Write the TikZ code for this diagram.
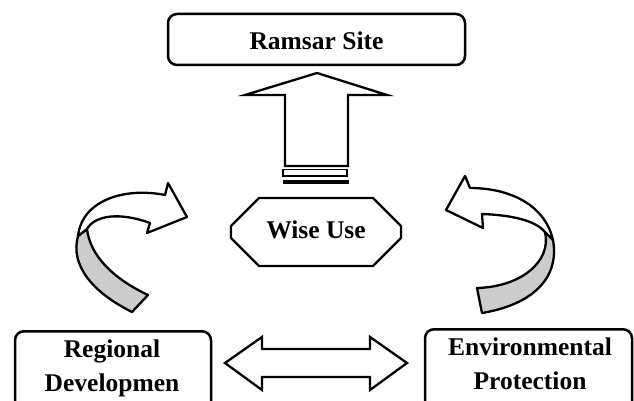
\documentclass[tikz,border=0pt]{standalone}
\usepackage{fontspec}
\setmainfont{Liberation Serif}
\usetikzlibrary{shapes.misc}
\begin{document}
\begin{tikzpicture}[x=1pt,y=-1pt,
  outline/.style={draw=black, line width=2.3pt},
  txt/.style={font=\bfseries\fontsize{25.5}{34}\selectfont, align=center, inner sep=0pt},
  roundbox/.style={outline, line width=2.5pt, rounded corners=9pt, inner sep=0pt},
  shaded/.style={outline, fill=black!20, line join=round},
  blank/.style={outline, fill=white, line join=round},
  blockarrow/.style={outline, fill=white, line join=miter}]
\clip (0,0) rectangle (634,401);
\fill[white] (0,0) rectangle (634,401);

% top box
\node[roundbox, txt, minimum width=297pt, minimum height=51pt,
      text height=21pt, text depth=0pt] (ramsar) at (316.5,39.5) {Ramsar Site};

% centre octagon
\node[outline, txt, chamfered rectangle, chamfered rectangle xsep=21pt,
      chamfered rectangle ysep=17pt, minimum width=170pt, minimum height=68pt,
      text height=17pt, text depth=5pt] (wise) at (316,232) {Wise Use};

% bottom boxes (running off the lower edge)
\node[roundbox, minimum width=196pt, minimum height=90pt, anchor=north] (regbox) at (113,330) {};
\node[txt] (regional) at (112,368) {Regional\\Developmen};
\node[roundbox, minimum width=207pt, minimum height=90pt, anchor=north] (envbox) at (528.5,328) {};
\node[txt] (environ) at (530,363.5) {Environmental\\Protection};

% block arrow from the octagon up to the top box
\draw[blockarrow] (285,166) -- (285,95) -- (245,95) -- (317,73) -- (387,95)
  -- (348,95) -- (348,166) -- cycle;
\draw[outline, line width=1.8pt, fill=white] (283,169.5) rectangle (347,176);
\fill (283,180) rectangle (349,183.5);

% double block arrow between the bottom boxes
\draw[blockarrow] (225,363) -- (262,337) -- (262,349) -- (370,349) -- (370,337)
  -- (407,363) -- (370,390) -- (370,377) -- (262,377) -- (262,390) -- cycle;

% left curved arrow
\draw[shaded] (78,236) .. controls (70,265) and (92,292) .. (132,312)
  -- (148,295) .. controls (112,278) and (90,255) .. (87,229) -- cycle;
\draw[blank] (78,236) .. controls (82,200) and (125,187) .. (165,195)
  -- (168,183) -- (187,217) -- (147,233) -- (150,223)
  .. controls (120,212) and (95,215) .. (87,229) -- cycle;

% right curved arrow
\draw[shaded] (545,232) .. controls (552,262) and (520,287) .. (477,288)
  -- (482,313) .. controls (530,305) and (560,280) .. (553,240) -- cycle;
\draw[blank] (553,240) .. controls (545,205) and (510,188) .. (470,188)
  -- (465,176) -- (446,210) -- (483,228) -- (482,214)
  .. controls (510,215) and (535,220) .. (545,232) -- cycle;
\end{tikzpicture}
\end{document}
